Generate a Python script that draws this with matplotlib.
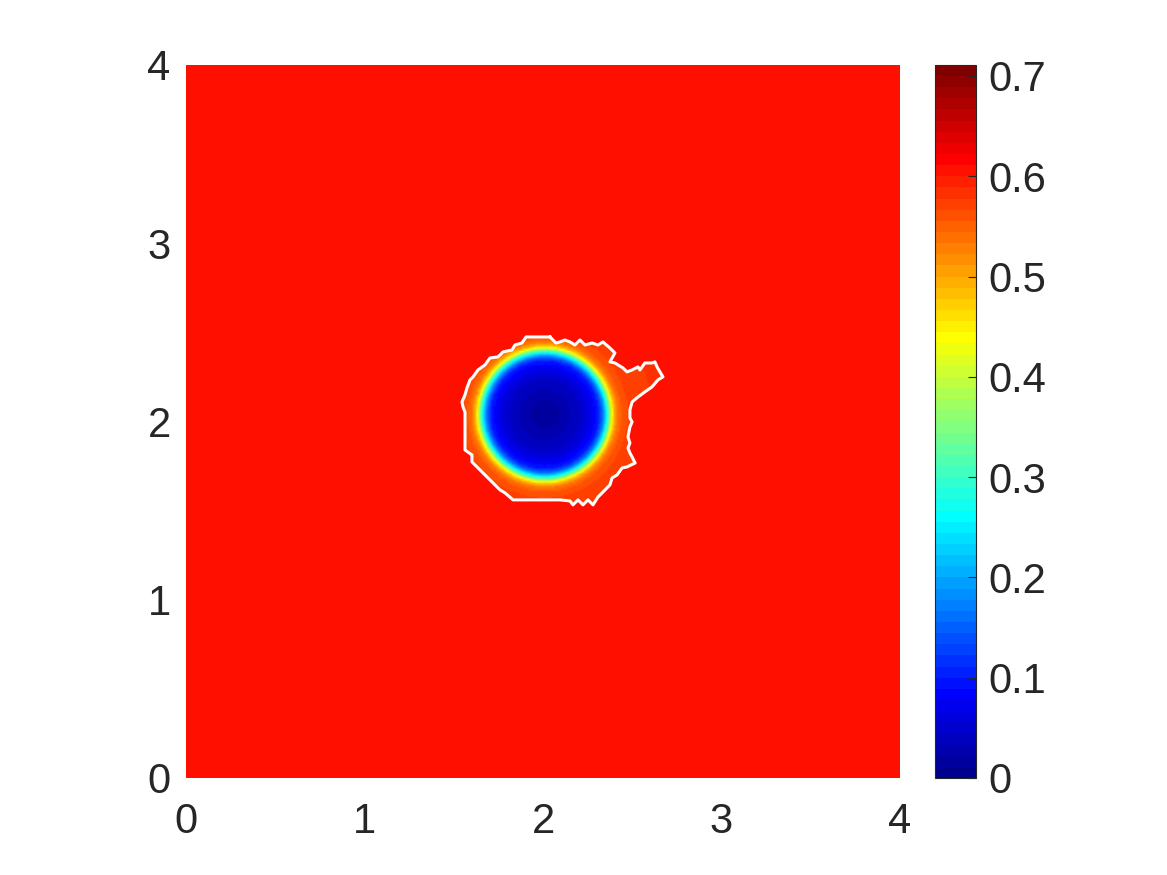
"""
Saturation map at final step: dry core around the injector with the front contour on top.
"""

import numpy as np
import matplotlib.pyplot as plt
from matplotlib.colors import ListedColormap
from matplotlib.path import Path

# field
CENTER = (2.01, 2.035)
BACKGROUND = 0.605
CLIM = (0.0, 0.711)

# radial profile of the core (distance from CENTER -> value)
profile_r = [0.0, 0.10, 0.20, 0.26, 0.30, 0.325, 0.345, 0.36, 0.375, 0.39, 0.41, 0.44, 0.50, 0.70]
profile_v = [0.01, 0.025, 0.045, 0.07, 0.10, 0.16, 0.25, 0.33, 0.42, 0.49, 0.535, 0.56, 0.575, 0.58]

# white front contour (x, y)
contour_x = [2.039, 1.905, 1.882, 1.843, 1.826, 1.776, 1.748, 1.703, 1.675, 1.636, 1.608, 1.591,
             1.574, 1.563, 1.546, 1.552, 1.563, 1.563, 1.602, 1.602, 1.759, 1.787, 1.832, 2.095,
             2.151, 2.168, 2.196, 2.224, 2.252, 2.280, 2.308, 2.336, 2.375, 2.387, 2.415, 2.443,
             2.471, 2.516, 2.499, 2.487, 2.476, 2.487, 2.476, 2.487, 2.499, 2.487, 2.487, 2.499,
             2.532, 2.571, 2.611, 2.644, 2.672, 2.655, 2.639, 2.627, 2.611, 2.571, 2.543, 2.532,
             2.499, 2.471, 2.448, 2.403, 2.375, 2.403, 2.375, 2.336, 2.308, 2.275, 2.235, 2.207,
             2.179, 2.151, 2.123, 2.095, 2.073]
contour_y = [2.474, 2.474, 2.440, 2.429, 2.401, 2.390, 2.362, 2.356, 2.317, 2.289, 2.250, 2.233,
             2.188, 2.149, 2.109, 2.081, 2.053, 1.840, 1.812, 1.773, 1.616, 1.599, 1.560, 1.560,
             1.554, 1.532, 1.560, 1.532, 1.560, 1.532, 1.576, 1.604, 1.644, 1.683, 1.700, 1.739,
             1.745, 1.767, 1.801, 1.823, 1.851, 1.879, 1.913, 1.969, 1.997, 2.020, 2.065, 2.109,
             2.137, 2.166, 2.194, 2.233, 2.250, 2.278, 2.306, 2.334, 2.328, 2.328, 2.289, 2.306,
             2.289, 2.278, 2.300, 2.328, 2.334, 2.384, 2.412, 2.446, 2.429, 2.440, 2.429, 2.457,
             2.429, 2.446, 2.457, 2.446, 2.440]

x_ticks = [0, 1, 2, 3, 4]
y_ticks = [0, 1, 2, 3, 4]
cbar_ticks = [0, 0.1, 0.2, 0.3, 0.4, 0.5, 0.6, 0.7]

TEXT_COLOR = (0.15, 0.15, 0.15)
FONT = "Liberation Sans"
FONT_SIZE = 30


def matlab_jet(m=64):
    # same construction as MATLAB's jet(m)
    n = int(np.ceil(m / 4))
    u = np.concatenate([np.arange(1, n + 1) / n, np.ones(n - 1), np.arange(n, 0, -1) / n])
    g = int(np.ceil(n / 2)) - (m % 4 == 1) + np.arange(1, len(u) + 1)
    r = g + n
    b = g - n
    g = g[g <= m]
    r = r[r <= m]
    b = b[b >= 1]
    J = np.zeros((m, 3))
    J[r - 1, 0] = u[:len(r)]
    J[g - 1, 1] = u[:len(g)]
    J[b - 1, 2] = u[-len(b):]
    return ListedColormap(J)


def build_field(n=401):
    xs = np.linspace(0, 4, n)
    X, Y = np.meshgrid(xs, xs)
    R = np.hypot(X - CENTER[0], Y - CENTER[1])
    core = np.interp(R, profile_r, profile_v)
    front = Path(np.column_stack([contour_x, contour_y]))
    inside = front.contains_points(np.column_stack([X.ravel(), Y.ravel()])).reshape(X.shape)
    return np.where(inside, core, BACKGROUND)


def main():
    plt.rcParams["font.family"] = [FONT, "DejaVu Sans"]
    fig = plt.figure(figsize=(11.67, 8.75), dpi=100)
    ax = fig.add_axes([0.1594, 0.1109, 0.6118, 0.8149])
    cax = fig.add_axes([0.8012, 0.1109, 0.0351, 0.8149])

    im = ax.imshow(build_field(), extent=[0, 4, 0, 4], origin="lower", cmap=matlab_jet(64),
                   vmin=CLIM[0], vmax=CLIM[1], interpolation="bilinear", aspect="auto")
    ax.plot(contour_x + contour_x[:1], contour_y + contour_y[:1], color="white", lw=2.2)

    ax.set_xlim(0, 4)
    ax.set_ylim(0, 4)
    ax.set_xticks(x_ticks)
    ax.set_yticks(y_ticks)
    ax.tick_params(axis="x", length=0, pad=17, labelsize=FONT_SIZE, labelcolor=TEXT_COLOR)
    ax.tick_params(axis="y", length=0, pad=11, labelsize=FONT_SIZE, labelcolor=TEXT_COLOR)
    for s in ax.spines.values():
        s.set_visible(False)

    cb = fig.colorbar(im, cax=cax)
    cb.set_ticks(cbar_ticks)
    cb.set_ticklabels([f"{t:g}" for t in cbar_ticks])
    cb.outline.set_edgecolor(TEXT_COLOR)
    cb.outline.set_linewidth(0.8)
    cax.tick_params(direction="in", length=6, width=0.8, color=TEXT_COLOR, pad=9,
                    labelsize=FONT_SIZE, labelcolor=TEXT_COLOR)

    fig.savefig("out.png", dpi=100)
    plt.close(fig)


if __name__ == "__main__":
    main()
